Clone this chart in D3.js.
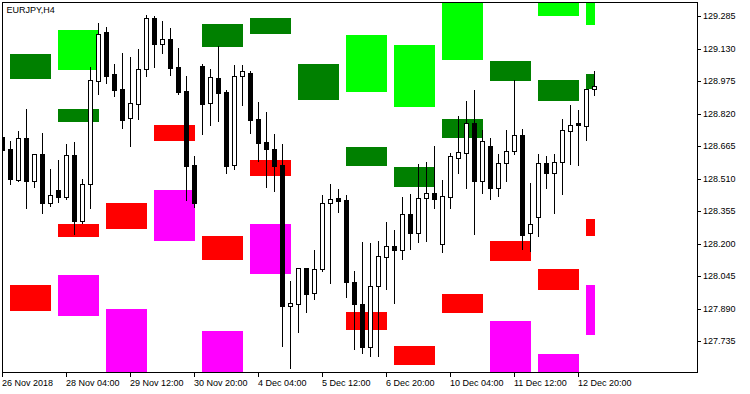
<!DOCTYPE html>
<html>
<head>
<meta charset="utf-8">
<script src="https://cdn.jsdelivr.net/npm/d3@7"></script>
<style>
  html, body { margin: 0; padding: 0; background: #fff; }
  svg { display: block; }
  text { font-family: "Liberation Sans", Arial, sans-serif; font-size: 9px; fill: #000; }
</style>
</head>
<body>
<div id="chart"></div>
<script>
// EURJPY H4 candles, bar 0 = 26 Nov 2018 20:00 ... bar 74 = 13 Dec 04:00
const opens = [128.709,128.651,128.503,128.703,128.500,128.627,128.395,128.455,128.423,128.622,
  128.309,128.482,128.974,129.209,129.008,128.937,128.797,128.867,129.034,129.276,
  129.153,129.175,129.042,128.927,128.574,129.047,128.869,128.988,128.921,128.573,
  128.997,129.012,128.794,128.684,128.651,128.574,127.903,127.910,128.082,127.963,
  128.077,128.392,128.417,128.406,128.015,127.911,127.708,127.996,128.134,128.188,
  128.170,128.341,128.252,128.417,128.441,128.199,128.423,128.609,128.633,128.775,
  128.500,128.665,128.467,128.583,128.639,128.718,128.249,128.328,128.583,128.538,
  128.587,128.738,128.776,128.762,128.935];
const highs = [128.718,128.690,128.737,128.841,128.629,128.727,128.555,128.598,128.675,128.683,
  128.508,129.040,129.252,129.234,129.056,129.110,129.089,129.128,129.291,129.286,
  129.261,129.228,129.132,128.999,128.619,129.056,129.032,129.142,128.932,129.051,
  129.049,129.024,128.875,128.827,128.722,128.675,128.021,128.083,128.083,128.169,
  128.430,128.484,128.460,128.430,128.067,128.206,128.201,128.212,128.303,128.264,
  128.423,128.436,128.579,128.589,128.665,128.503,128.630,128.808,128.880,128.932,
  128.743,128.702,128.627,128.741,128.980,128.746,128.489,128.627,128.617,128.627,
  128.794,128.861,128.837,128.937,129.023];
const lows = [128.641,128.485,128.498,128.371,128.471,128.347,128.379,128.399,128.411,128.244,
  128.296,128.371,128.912,128.967,128.905,128.752,128.666,128.795,129.000,129.043,
  129.110,129.005,128.913,128.408,128.376,128.724,128.767,128.786,128.535,128.557,
  128.861,128.725,128.595,128.471,128.452,127.713,127.608,127.779,127.875,127.937,
  128.070,128.013,128.352,127.943,127.695,127.679,127.665,127.665,127.982,127.918,
  128.126,128.174,128.207,128.212,128.371,128.160,128.369,128.538,128.466,128.247,
  128.442,128.411,128.428,128.500,128.628,128.175,128.166,128.237,128.466,128.347,
  128.438,128.581,128.574,128.695,128.910];
const closes = [128.646,128.509,128.703,128.500,128.625,128.395,128.431,128.423,128.622,128.309,
  128.484,128.980,129.199,129.000,128.934,128.790,128.869,129.031,129.276,129.153,
  129.175,129.038,128.924,128.571,128.395,128.867,128.993,128.919,128.571,128.997,
  129.021,128.790,128.681,128.652,128.571,127.903,127.915,128.082,127.961,128.077,
  128.392,128.411,128.404,128.015,127.910,127.708,127.996,128.139,128.188,128.170,
  128.341,128.252,128.417,128.439,128.414,128.427,128.616,128.635,128.775,128.500,
  128.689,128.466,128.583,128.641,128.716,128.242,128.292,128.583,128.538,128.587,
  128.740,128.764,128.767,128.935,128.950];

// trading days and the bar each one starts on
const days = ["27 Nov","28 Nov","29 Nov","30 Nov","3 Dec","4 Dec","5 Dec","6 Dec","7 Dec","10 Dec","11 Dec","12 Dec","13 Dec"];
const dayFirstBar = [1,7,13,19,25,31,37,43,49,55,61,67,73];
const lastBar = 74;

// zone boxes per day: [day, upper price, lower price]
const limeBoxes = [["28 Nov",129.218,129.027],["6 Dec",129.194,128.923],["7 Dec",129.147,128.851],
  ["10 Dec",129.420,129.075],["12 Dec",129.420,129.286],["13 Dec",129.420,129.242]];
const greenBoxes = [["27 Nov",129.104,128.985],["28 Nov",128.841,128.779],["3 Dec",129.247,129.137],
  ["4 Dec",129.275,129.199],["5 Dec",129.056,128.884],["6 Dec",128.660,128.570],["7 Dec",128.565,128.470],
  ["10 Dec",128.794,128.703],["11 Dec",129.070,128.975],["12 Dec",128.980,128.880],["13 Dec",129.008,128.937]];
const redBoxes = [["27 Nov",128.002,127.878],["28 Nov",128.293,128.231],["29 Nov",128.393,128.269],
  ["30 Nov",128.765,128.689],["3 Dec",128.236,128.121],["4 Dec",128.598,128.522],["6 Dec",127.873,127.788],
  ["7 Dec",127.711,127.621],["10 Dec",127.959,127.869],["11 Dec",128.212,128.117],["12 Dec",128.078,127.978],
  ["13 Dec",128.317,128.236]];
const magentaBoxes = [["28 Nov",128.050,127.854],["29 Nov",127.888,127.400],["30 Nov",128.455,128.212],
  ["3 Dec",127.783,127.400],["4 Dec",128.293,128.055],["10 Dec",127.587,127.400],["11 Dec",127.830,127.400],
  ["12 Dec",127.673,127.400],["13 Dec",128.002,127.764]];

const priceTicks = [129.285,129.130,128.975,128.820,128.665,128.510,128.355,128.200,128.045,127.890,127.735];
const timeTickBars = [0,8,16,24,32,40,48,56,64,72];
const timeTickLabels = ["26 Nov 2018","28 Nov 04:00","29 Nov 12:00","30 Nov 20:00","4 Dec 04:00",
  "5 Dec 12:00","6 Dec 20:00","10 Dec 04:00","11 Dec 12:00","12 Dec 20:00"];

const W = 750, H = 394;
const frame = { left: 2, top: 2, right: 697, bottom: 373 };

const x = d3.scaleLinear().domain([0, 74]).range([2.5, 594.5]);
const y = d3.scaleLinear().domain([127.735, 129.285]).range([341, 16]);

const svg = d3.select("#chart").append("svg")
  .attr("width", W).attr("height", H)
  .attr("viewBox", `0 0 ${W} ${H}`);

svg.append("clipPath").attr("id", "plotClip")
  .append("rect")
  .attr("x", frame.left + 0.5).attr("y", frame.top + 0.5)
  .attr("width", frame.right - frame.left).attr("height", frame.bottom - frame.top - 1);

const plot = svg.append("g").attr("clip-path", "url(#plotClip)");

// boxes first, candles drawn over them
function drawBoxes(data, color) {
  plot.append("g").attr("shape-rendering", "crispEdges")
    .selectAll("rect").data(data).join("rect")
    .attr("x", d => {
      const s = dayFirstBar[days.indexOf(d[0])];
      return x(s) - 0.5;
    })
    .attr("width", d => {
      const s = dayFirstBar[days.indexOf(d[0])];
      const e = Math.min(s + 5, lastBar);
      return x(e) - x(s) + 1;
    })
    .attr("y", d => Math.round(y(d[1])))
    .attr("height", d => Math.round(y(d[2])) - Math.round(y(d[1])))
    .attr("fill", color);
}
drawBoxes(limeBoxes, "#00ff00");
drawBoxes(greenBoxes, "#008000");
drawBoxes(redBoxes, "#ff0000");
drawBoxes(magentaBoxes, "#ff00ff");

const bars = opens.map((o, i) => ({ i, o, h: highs[i], l: lows[i], c: closes[i] }));

const candles = plot.append("g").attr("shape-rendering", "crispEdges")
  .selectAll("g").data(bars).join("g");

candles.append("line")
  .attr("x1", d => x(d.i)).attr("x2", d => x(d.i))
  .attr("y1", d => Math.round(y(d.h))).attr("y2", d => Math.round(y(d.l)) + 1)
  .attr("stroke", "#000").attr("stroke-width", 1);

candles.append("rect")
  .attr("x", d => x(d.i) - 2)
  .attr("width", 4)
  .attr("y", d => Math.round(y(Math.max(d.o, d.c))) + 0.5)
  .attr("height", d => Math.round(y(Math.min(d.o, d.c))) - Math.round(y(Math.max(d.o, d.c))))
  .attr("fill", d => d.c > d.o ? "#fff" : "#000")
  .attr("stroke", "#000").attr("stroke-width", 1);

// frame
svg.append("rect")
  .attr("x", frame.left + 0.5).attr("y", frame.top + 0.5)
  .attr("width", frame.right - frame.left).attr("height", frame.bottom - frame.top - 1)
  .attr("fill", "none").attr("stroke", "#000").attr("shape-rendering", "crispEdges");

// price axis on the right
const yAxis = svg.append("g")
  .attr("transform", `translate(${frame.right},0)`)
  .call(d3.axisRight(y).tickValues(priceTicks).tickFormat(d3.format(".3f"))
    .tickSize(4).tickPadding(2).offset(0.5));
yAxis.select(".domain").remove();
yAxis.selectAll("line").attr("stroke", "#000").attr("shape-rendering", "crispEdges");
yAxis.selectAll("text").attr("font-family", null).attr("font-size", null).attr("fill", "#000");

// time axis at the bottom
const xAxis = svg.append("g")
  .attr("transform", `translate(0,${frame.bottom - 0.5})`)
  .call(d3.axisBottom(x).tickValues(timeTickBars)
    .tickFormat(d => timeTickLabels[timeTickBars.indexOf(d)])
    .tickSize(4).tickPadding(3).offset(0));
xAxis.select(".domain").remove();
xAxis.selectAll("line").attr("stroke", "#000").attr("shape-rendering", "crispEdges");
xAxis.selectAll("text").attr("font-family", null).attr("font-size", null)
  .attr("fill", "#000").attr("text-anchor", "start").attr("dx", "-0.5");

svg.append("text").attr("x", 6.5).attr("y", 13.3).text("EURJPY,H4");
</script>
</body>
</html>
